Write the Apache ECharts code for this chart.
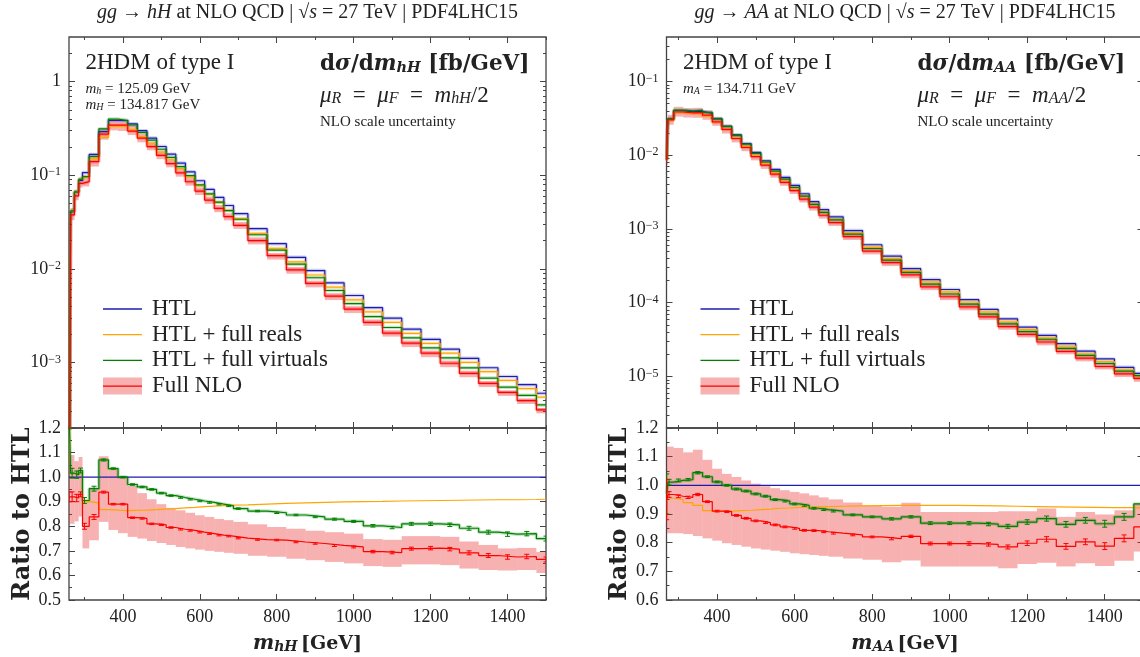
<!DOCTYPE html>
<html>
<head>
<meta charset="utf-8">
<script src="https://cdn.jsdelivr.net/npm/echarts@6/dist/echarts.min.js"></script>
<style>
  html, body { margin: 0; padding: 0; background: #fff; }
  #chart { width: 1140px; height: 657px; }
</style>
</head>
<body>
<div id="chart"></div>
<script>
// ---- gg -> hH (left) ----
const centresHH = [260, 268, 280, 290, 300, 325, 350, 375, 400, 425, 450, 475, 500, 525, 550, 575, 600, 625, 650, 675, 700,
  750, 800, 850, 900, 950, 1000, 1050, 1100, 1150, 1200, 1250, 1300, 1350, 1400, 1450, 1500];
const htlHH = [1e-6, 0.041, 0.066, 0.088, 0.107, 0.167, 0.293, 0.385, 0.385, 0.355, 0.300, 0.250, 0.203, 0.168, 0.135, 0.109,
  0.0875, 0.0707, 0.058, 0.0476, 0.0389, 0.0269, 0.0186, 0.0133, 0.0096, 0.0071, 0.0052, 0.00386, 0.00298, 0.00227, 0.00177,
  0.00139, 0.00111, 0.00088, 0.00071, 0.00058, 0.00047];
const realsHH = [1.3, 1.016, 1.01, 1.027, 0.9, 0.895, 0.868, 0.866, 0.864, 0.865, 0.866, 0.868, 0.87, 0.872, 0.875, 0.877, 0.88,
  0.882, 0.884, 0.886, 0.887, 0.89, 0.893, 0.895, 0.897, 0.899, 0.9, 0.901, 0.903, 0.904, 0.905, 0.906, 0.907, 0.908, 0.908, 0.909, 0.91];
const virtualsHH = [1.3, 1.016, 1.01, 1.027, 0.905, 0.953, 1.07, 1.035, 1.0, 0.97, 0.96, 0.95, 0.935, 0.925, 0.917, 0.91, 0.903,
  0.897, 0.89, 0.883, 0.872, 0.862, 0.855, 0.846, 0.838, 0.829, 0.82, 0.802, 0.795, 0.81, 0.81, 0.806, 0.792, 0.776, 0.768, 0.77, 0.75];
const fullHH = [0.92, 0.92, 0.915, 0.93, 0.8, 0.838, 0.939, 0.89, 0.89, 0.835, 0.832, 0.81, 0.806, 0.795, 0.788, 0.783, 0.776,
  0.77, 0.764, 0.76, 0.752, 0.746, 0.744, 0.736, 0.73, 0.722, 0.716, 0.697, 0.693, 0.709, 0.711, 0.707, 0.692, 0.681, 0.675, 0.677, 0.665];
const scaleLoHH = [0.81, 0.81, 0.82, 0.84, 0.71, 0.743, 0.818, 0.785, 0.772, 0.757, 0.75, 0.74, 0.732, 0.724, 0.716, 0.71, 0.705,
  0.7, 0.696, 0.692, 0.688, 0.68, 0.676, 0.668, 0.662, 0.655, 0.649, 0.638, 0.635, 0.645, 0.645, 0.642, 0.628, 0.622, 0.62, 0.622, 0.61];
const scaleHiHH = [1.09, 1.09, 1.065, 1.082, 0.9, 0.953, 1.085, 1.034, 1.0, 0.965, 0.935, 0.91, 0.89, 0.875, 0.865, 0.855, 0.845,
  0.838, 0.83, 0.825, 0.818, 0.808, 0.797, 0.79, 0.782, 0.776, 0.77, 0.748, 0.745, 0.76, 0.76, 0.757, 0.738, 0.724, 0.71, 0.712, 0.696];
const errHH = [0.02, 0.02, 0.015, 0.01, 0.012, 0.01, 0.004, 0.003, 0.003, 0.003, 0.003, 0.003, 0.003, 0.003, 0.003, 0.003, 0.003,
  0.003, 0.003, 0.003, 0.003, 0.003, 0.003, 0.003, 0.003, 0.004, 0.004, 0.005, 0.005, 0.006, 0.007, 0.007, 0.008, 0.008, 0.009, 0.009, 0.01];

// ---- gg -> AA (right) ----
const centresAA = [270, 276, 300, 325, 350, 375, 400, 425, 450, 475, 500, 525, 550, 575, 600, 625, 650, 675, 700,
  750, 800, 850, 900, 950, 1000, 1050, 1100, 1150, 1200, 1250, 1300, 1350, 1400, 1450, 1500];
const htlAA = [0.0089, 0.031, 0.040, 0.039, 0.039, 0.037, 0.031, 0.0246, 0.0188, 0.0144, 0.0109, 0.0084, 0.0064, 0.0050, 0.0039,
  0.0030, 0.00234, 0.00183, 0.00146, 0.00095, 0.00061, 0.000428, 0.00029, 0.000206, 0.000151, 0.00011, 0.000081, 0.0000604,
  0.0000465, 0.0000361, 0.0000278, 0.000022, 0.0000173, 0.0000133, 0.000011];
const realsAA = [0.955, 0.955, 0.95, 0.94, 0.93, 0.912, 0.91, 0.91, 0.912, 0.913, 0.915, 0.917, 0.92, 0.921, 0.923, 0.924, 0.925,
  0.926, 0.927, 0.928, 0.929, 0.93, 0.93, 0.93, 0.93, 0.929, 0.928, 0.927, 0.926, 0.925, 0.924, 0.923, 0.922, 0.922, 0.921];
const virtualsAA = [0.97, 1.011, 1.017, 1.02, 1.044, 1.03, 1.012, 1.0, 0.987, 0.98, 0.97, 0.962, 0.95, 0.945, 0.935, 0.93, 0.92,
  0.915, 0.91, 0.897, 0.89, 0.883, 0.89, 0.868, 0.868, 0.868, 0.865, 0.857, 0.872, 0.884, 0.864, 0.878, 0.866, 0.89, 0.935];
const fullAA = [0.95, 0.968, 0.962, 0.958, 0.968, 0.943, 0.91, 0.908, 0.895, 0.885, 0.876, 0.87, 0.862, 0.855, 0.85, 0.843, 0.842,
  0.838, 0.833, 0.827, 0.82, 0.814, 0.822, 0.797, 0.797, 0.797, 0.794, 0.785, 0.798, 0.812, 0.787, 0.803, 0.788, 0.815, 0.855];
const scaleLoAA = [0.833, 0.833, 0.833, 0.83, 0.823, 0.815, 0.807, 0.798, 0.792, 0.786, 0.78, 0.776, 0.772, 0.768, 0.763, 0.76,
  0.757, 0.754, 0.751, 0.745, 0.74, 0.732, 0.738, 0.717, 0.717, 0.717, 0.717, 0.711, 0.726, 0.73, 0.717, 0.728, 0.719, 0.737, 0.769];
const scaleHiAA = [1.135, 1.135, 1.13, 1.115, 1.124, 1.089, 1.058, 1.04, 1.029, 1.017, 1.006, 0.997, 0.99, 0.983, 0.977, 0.972,
  0.965, 0.958, 0.951, 0.94, 0.93, 0.925, 0.939, 0.907, 0.907, 0.907, 0.907, 0.91, 0.91, 0.919, 0.89, 0.907, 0.898, 0.913, 0.936];
const errAA = [0.07, 0.01, 0.005, 0.004, 0.004, 0.003, 0.003, 0.003, 0.003, 0.003, 0.003, 0.003, 0.003, 0.003, 0.003, 0.003, 0.003,
  0.003, 0.003, 0.003, 0.003, 0.004, 0.004, 0.005, 0.005, 0.006, 0.006, 0.007, 0.008, 0.009, 0.01, 0.01, 0.012, 0.012, 0.015];

// ---- ticks ----
const massTicks = [400, 600, 800, 1000, 1200, 1400];
const massMinorTicks = [300, 500, 700, 900, 1100, 1300, 1500];
const xsecTicksHH = [1e-3, 1e-2, 1e-1, 1];
const xsecTicksAA = [1e-5, 1e-4, 1e-3, 1e-2, 1e-1];
const ratioTicksHH = [0.5, 0.6, 0.7, 0.8, 0.9, 1.0, 1.1, 1.2];
const ratioTicksAA = [0.6, 0.7, 0.8, 0.9, 1.0, 1.1, 1.2];

const C_HTL = '#1c1cb0', C_REAL = '#ffa500', C_VIRT = '#008000', C_NLO = '#ff0000';
const C_BAND = 'rgba(232,40,40,0.36)';
const FRAME = '#444';
const SERIF = 'Liberation Serif';
const BOLD = 'DejaVu Serif';

const lg = v => Math.log10(v);

function edgesOf(c) {
  const e = [c[0]];
  for (let i = 1; i < c.length; i++) e.push((c[i - 1] + c[i]) / 2);
  e.push(c[c.length - 1]);
  return e;
}
function stepData(c, vals) {
  return edgesOf(c).map((x, i) => [x, vals[Math.min(i, vals.length - 1)]]);
}
function binData(c, lo, hi) {
  const e = edgesOf(c);
  return lo.map((v, i) => [e[i], e[i + 1], v, hi[i]]);
}
function logMinor(min, max) {
  const out = [];
  for (let d = Math.floor(lg(min)); d <= Math.ceil(lg(max)); d++)
    for (let k = 2; k <= 9; k++) {
      const v = lg(k) + d;
      if (v > lg(min) && v < lg(max)) out.push(v);
    }
  return out;
}
function midTicks(t) {
  return t.slice(1).map((v, i) => (v + t[i]) / 2);
}

const panels = [
  { left: 69, xmin: 259.9, c: centresHH, htl: htlHH, reals: realsHH, virt: virtualsHH, full: fullHH, lo: scaleLoHH, hi: scaleHiHH,
    err: errHH, ymin: 2e-4, ymax: 3, yt: xsecTicksHH, rmin: 0.5, rt: ratioTicksHH, sub: 'hH',
    masses: ['{smit|m}{isub|h}{sm| = 125.09 GeV}', '{smit|m}{isub|H}{sm| = 134.817 GeV}'] },
  { left: 666.5, xmin: 269.4, c: centresAA, htl: htlAA, reals: realsAA, virt: virtualsAA, full: fullAA, lo: scaleLoAA, hi: scaleHiAA,
    err: errAA, ymin: 2e-6, ymax: 0.4, yt: xsecTicksAA, rmin: 0.6, rt: ratioTicksAA, sub: 'AA',
    masses: ['{smit|m}{isub|A}{sm| = 134.711 GeV}'] }
];

const W = 477, TOP = 37, TOPH = 391, RATH = 172;
const grids = [], xAxes = [], yAxes = [], series = [], graphics = [];
const tickLine = { color: FRAME, width: 1 };
const labelFont = { fontFamily: SERIF, fontSize: 18, color: '#222' };

function addGrid(left, top, height) {
  grids.push({ left: left, top: top, width: W, height: height, show: true, borderColor: FRAME, borderWidth: 1.3,
    containLabel: false, outerBoundsMode: 'none' });
  return grids.length - 1;
}
function addAxes(gi, xmin, ymin, ymax, yMajor, yMinor, yFmt, showX, extraX, extraY) {
  const xi = xAxes.length, yi = yAxes.length;
  [['bottom', massTicks, 6, showX], ['bottom', massMinorTicks, 3, false], ['top', massTicks, 6, false], ['top', massMinorTicks, 3, false]]
    .forEach(([pos, vals, len, lab], k) => {
      xAxes.push(Object.assign({ gridIndex: gi, type: 'value', min: xmin, max: 1500, position: pos,
        axisLine: { show: false, onZero: false }, splitLine: { show: false },
        axisTick: { show: true, inside: true, length: len, customValues: vals, lineStyle: tickLine },
        axisLabel: Object.assign({ show: lab, customValues: vals, margin: 8, formatter: v => String(v) }, labelFont) },
        k === 0 ? extraX : {}));
    });
  [['left', yMajor, 6, true], ['left', yMinor, 3, false], ['right', yMajor, 6, false], ['right', yMinor, 3, false]]
    .forEach(([pos, vals, len, lab], k) => {
      yAxes.push(Object.assign({ gridIndex: gi, type: 'value', min: ymin, max: ymax, position: pos,
        axisLine: { show: false, onZero: false }, splitLine: { show: false },
        axisTick: { show: true, inside: true, length: len, customValues: vals, lineStyle: tickLine },
        axisLabel: Object.assign({ show: lab, customValues: vals, margin: 8, formatter: yFmt,
          rich: { b: { fontFamily: SERIF, fontSize: 18, color: '#222' },
                  s: { fontFamily: SERIF, fontSize: 12, color: '#222', verticalAlign: 'top', lineHeight: 10 } } }, labelFont) },
        k === 0 ? extraY : {}));
    });
  return [xi, yi];
}
function stepLine(xi, yi, data, color, z, halo) {
  return { type: 'line', xAxisIndex: xi, yAxisIndex: yi, data: data, step: 'end', symbol: 'none', clip: true,
    lineStyle: halo ? { color: color, width: 3.5, opacity: 0.22 } : { color: color, width: 1.2 },
    itemStyle: { color: color }, z: halo ? 2 : z, silent: true, animation: false };
}
function bandSeries(xi, yi, data) {
  return { type: 'custom', xAxisIndex: xi, yAxisIndex: yi, data: data, clip: true, silent: true, z: 1,
    encode: { x: [0, 1], y: [2, 3] }, animation: false,
    renderItem: (params, api) => {
      const p0 = api.coord([api.value(0), api.value(3)]);
      const p1 = api.coord([api.value(1), api.value(2)]);
      return { type: 'rect', shape: { x: p0[0], y: p0[1], width: p1[0] - p0[0], height: p1[1] - p0[1] },
        style: { fill: C_BAND } };
    } };
}
function errSeries(xi, yi, c, vals, err, color) {
  return { type: 'custom', xAxisIndex: xi, yAxisIndex: yi, clip: true, silent: true, z: 6, animation: false,
    data: c.map((x, i) => [x, vals[i], err[i]]), encode: { x: 0, y: 1 },
    renderItem: (params, api) => {
      const x = api.value(0), v = api.value(1), e = api.value(2);
      const a = api.coord([x, v + e]), b = api.coord([x, v - e]);
      const st = { stroke: color, lineWidth: 1 };
      return { type: 'group', children: [
        { type: 'line', shape: { x1: a[0], y1: a[1], x2: b[0], y2: b[1] }, style: st },
        { type: 'line', shape: { x1: a[0] - 2.5, y1: a[1], x2: a[0] + 2.5, y2: a[1] }, style: st },
        { type: 'line', shape: { x1: b[0] - 2.5, y1: b[1], x2: b[0] + 2.5, y2: b[1] }, style: st } ] };
    } };
}

const INK = '#222';
const richText = {
  t: { fontFamily: SERIF, fontSize: 20, color: INK },
  ti: { fontFamily: SERIF, fontSize: 20, fontStyle: 'italic', color: INK },
  r: { fontFamily: SERIF, fontSize: 23, color: INK },
  it: { fontFamily: SERIF, fontSize: 23, fontStyle: 'italic', color: INK },
  sub: { fontFamily: SERIF, fontSize: 16, fontStyle: 'italic', color: INK, verticalAlign: 'bottom', lineHeight: 13 },
  sm: { fontFamily: SERIF, fontSize: 15, color: INK },
  smit: { fontFamily: SERIF, fontSize: 15, fontStyle: 'italic', color: INK },
  isub: { fontFamily: SERIF, fontSize: 10, fontStyle: 'italic', color: INK, verticalAlign: 'bottom', lineHeight: 9 },
  b: { fontFamily: BOLD, fontSize: 21.5, fontWeight: 'bold', color: INK },
  bi: { fontFamily: BOLD, fontSize: 21.5, fontWeight: 'bold', fontStyle: 'italic', color: INK },
  bisub: { fontFamily: BOLD, fontSize: 14.5, fontWeight: 'bold', fontStyle: 'italic', color: INK, verticalAlign: 'bottom', lineHeight: 12 }
};
function txt(x, y, text, align) {
  graphics.push({ type: 'text', x: x, y: y, silent: true, z: 100,
    style: { text: text, rich: richText, font: '20px "Liberation Serif"', align: align || 'left', verticalAlign: 'middle',
      textAlign: align || 'left', textVerticalAlign: 'middle', fill: INK } });
}

panels.forEach(p => {
  const L = p.left;
  // top panel: log10 of the cross section on a linear axis
  const gTop = addGrid(L, TOP, TOPH);
  const logFmt = v => {
    const n = Math.round(v);
    return n === 0 ? '{b|1}' : '{b|10}{s|\u2212' + Math.abs(n) + '}';
  };
  const [xt, yt] = addAxes(gTop, p.xmin, lg(p.ymin), lg(p.ymax), p.yt.map(lg), logMinor(p.ymin, p.ymax), logFmt, false, {}, {});
  const topOf = r => p.htl.map((v, i) => lg(v * r[i]));
  const topLines = [[p.htl.map(lg), C_HTL, 3], [topOf(p.reals), C_REAL, 4], [topOf(p.virt), C_VIRT, 5], [topOf(p.full), C_NLO, 6]];
  series.push(bandSeries(xt, yt, binData(p.c, topOf(p.lo), topOf(p.hi))));
  topLines.forEach(([vals, col]) => series.push(stepLine(xt, yt, stepData(p.c, vals), col, 2, true)));
  topLines.forEach(([vals, col, z]) => series.push(stepLine(xt, yt, stepData(p.c, vals), col, z)));

  // ratio panel
  const gRat = addGrid(L, TOP + TOPH, RATH);
  const nameRich = {
    bi: { fontFamily: BOLD, fontSize: 20, fontWeight: 'bold', fontStyle: 'italic', color: INK },
    bisub: { fontFamily: BOLD, fontSize: 14, fontWeight: 'bold', fontStyle: 'italic', color: INK, verticalAlign: 'bottom', lineHeight: 10 },
    b: { fontFamily: BOLD, fontSize: 19, fontWeight: 'bold', color: INK }
  };
  const [xr, yr] = addAxes(gRat, p.xmin, p.rmin, 1.2, p.rt, midTicks(p.rt), v => '{b|' + v.toFixed(1) + '}', true,
    { name: '{bi|m}{bisub|' + p.sub + '} {b|[GeV]}', nameLocation: 'middle', nameGap: 34, nameTextStyle: { rich: nameRich } },
    { name: 'Ratio to HTL', nameLocation: 'middle', nameGap: 27, nameRotate: 90,
      nameTextStyle: { fontFamily: BOLD, fontWeight: 'bold', fontSize: 24, color: INK } });
  series.push(bandSeries(xr, yr, binData(p.c, p.lo, p.hi)));
  series.push(stepLine(xr, yr, stepData(p.c, p.virt), C_VIRT, 2, true));
  series.push(stepLine(xr, yr, stepData(p.c, p.htl.map(v => v / v)), C_HTL, 3));
  series.push(stepLine(xr, yr, stepData(p.c, p.reals), C_REAL, 4));
  series.push(stepLine(xr, yr, stepData(p.c, p.virt), C_VIRT, 5));
  series.push(stepLine(xr, yr, stepData(p.c, p.full), C_NLO, 6));
  series.push(errSeries(xr, yr, p.c, p.virt, p.err, C_VIRT));
  series.push(errSeries(xr, yr, p.c, p.full, p.err, C_NLO));

  // texts
  txt(L + 238.5, 13, '{ti|gg}{t| \u2192 }{ti|' + p.sub + '}{t| at NLO QCD | \u221A}{ti|s}{t| = 27 TeV | PDF4LHC15}', 'center');
  txt(L + 16.5, 63, '{r|2HDM of type I}');
  p.masses.forEach((m, i) => txt(L + 16.5, 89 + 16 * i, m));
  txt(L + 251, 64.5, '{b|d}{bi|\u03C3}{b|/d}{bi|m}{bisub|' + p.sub + '}{b| [fb/GeV]}');
  txt(L + 251, 95.5, '{it|\u03BC}{sub|R}{r|  =  }{it|\u03BC}{sub|F}{r|  =  }{it|m}{sub|' + p.sub + '}{r|/2}');
  txt(L + 251, 122, '{sm|NLO scale uncertainty}');

  // legend
  const rows = [['HTL', C_HTL], ['HTL + full reals', C_REAL], ['HTL + full virtuals', C_VIRT], ['Full NLO', C_NLO]];
  rows.forEach(([name, col], i) => {
    const y = 309 + 25.7 * i;
    if (i === 3) graphics.push({ type: 'rect', silent: true, z: 99, shape: { x: L + 34, y: y - 8.5, width: 39, height: 17 },
      style: { fill: C_BAND } });
    graphics.push({ type: 'line', silent: true, z: 100, shape: { x1: L + 34, y1: y, x2: L + 73, y2: y },
      style: { stroke: col, lineWidth: 1.3 } });
    txt(L + 83, y, '{r|' + name + '}');
  });
});

const chart = echarts.init(document.getElementById('chart'));
chart.setOption({
  animation: false,
  backgroundColor: '#fff',
  grid: grids,
  xAxis: xAxes,
  yAxis: yAxes,
  series: series,
  graphic: { elements: graphics }
});
</script>
</body>
</html>
